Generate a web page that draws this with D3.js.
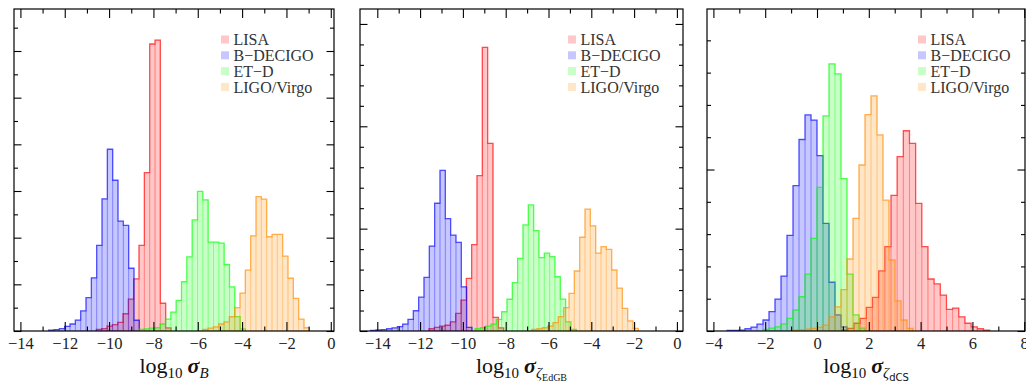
<!DOCTYPE html>
<html>
<head>
<meta charset="utf-8">
<script src="https://cdn.jsdelivr.net/npm/d3@7"></script>
<style>
  body { margin: 0; background: #fff; }
  svg { display: block; font-family: "Liberation Serif", "DejaVu Serif", serif; }
</style>
</head>
<body>
<svg id="chart" width="1026" height="384"></svg>
<script>
// detectors, in legend (and drawing) order
const names = ["LISA", "B\u2212DECIGO", "ET\u2212D", "LIGO/Virgo"];
const colors = ["#ff0000", "#0000ff", "#00ff00", "#ff8c00"];

// panel 1: log10 sigma_B -- first bin edge of each series, common bin width, densities
const bStarts = [-10.575, -12.725, -8.659, -5.779];
const bWidth = 0.2406;
const bLisa = [0.007, 0.010, 0.021, 0.027, 0.037, 0.074, 0.137, 0.223, 0.367, 0.679, 1.230, 1.247, 0.119, 0.013];
const bDecigo = [0.004, 0.006, 0.010, 0.020, 0.030, 0.047, 0.086, 0.143, 0.228, 0.367, 0.566, 0.779, 0.646, 0.471, 0.453, 0.269, 0.046];
const bEtd = [0.007, 0.009, 0.012, 0.014, 0.030, 0.051, 0.081, 0.131, 0.211, 0.318, 0.476, 0.598, 0.562, 0.381, 0.381, 0.377, 0.285, 0.189, 0.062, 0.009];
const bLigo = [0.007, 0.012, 0.018, 0.030, 0.039, 0.061, 0.100, 0.162, 0.261, 0.408, 0.576, 0.565, 0.404, 0.414, 0.414, 0.321, 0.226, 0.140, 0.051, 0.014];

// panel 2: log10 sigma_zeta EdGB
const eStarts = [-11.584, -14.31, -9.435, -6.786];
const eWidth = 0.2492;
const eLisa = [0.011, 0.018, 0.024, 0.028, 0.045, 0.086, 0.151, 0.257, 0.422, 0.759, 1.386, 0.917, 0.067, 0.015];
const eDecigo = [0.003, 0.005, 0.007, 0.011, 0.015, 0.021, 0.034, 0.057, 0.099, 0.165, 0.262, 0.415, 0.624, 0.785, 0.549, 0.468, 0.433, 0.216, 0.018];
const eEtd = [0.011, 0.016, 0.024, 0.034, 0.057, 0.094, 0.155, 0.236, 0.355, 0.518, 0.616, 0.490, 0.358, 0.380, 0.363, 0.265, 0.156, 0.045, 0.008];
const eLigo = [0.008, 0.011, 0.016, 0.024, 0.041, 0.070, 0.114, 0.184, 0.293, 0.458, 0.595, 0.514, 0.380, 0.412, 0.399, 0.298, 0.209, 0.111, 0.049, 0.013];

// panel 3: log10 sigma_zeta dCS (LISA has its own bin width)
const dStarts = [0.952, -3.475, -2.085, -0.927];
const dWidths = [0.238, 0.2317, 0.2317, 0.2317];
const dLisa = [0.003, 0.008, 0.024, 0.039, 0.073, 0.104, 0.186, 0.261, 0.420, 0.540, 0.620, 0.581, 0.395, 0.261, 0.161, 0.146, 0.111, 0.067, 0.071, 0.044, 0.024, 0.013, 0.007, 0.003];
const dDecigo = [0.002, 0.002, 0.003, 0.007, 0.012, 0.021, 0.034, 0.060, 0.099, 0.170, 0.296, 0.450, 0.593, 0.669, 0.653, 0.543, 0.333, 0.151, 0.050, 0.013];
const dEtd = [0.005, 0.009, 0.013, 0.022, 0.039, 0.065, 0.106, 0.176, 0.287, 0.445, 0.666, 0.827, 0.796, 0.472, 0.176, 0.050, 0.009];
const dLigo = [0.003, 0.004, 0.006, 0.008, 0.011, 0.018, 0.044, 0.075, 0.128, 0.223, 0.349, 0.514, 0.670, 0.728, 0.607, 0.405, 0.220, 0.093, 0.034, 0.008];

// ticks
const xTicksNeg = [-14, -12, -10, -8, -6, -4, -2, 0];
const xMinorNeg = [-13, -11, -9, -7, -5, -3, -1];
const xTicksC = [-4, -2, 0, 2, 4, 6, 8];
const xMinorC = [-3, -1, 1, 3, 5, 7];
const yTicksB = [0, 0.2, 0.4, 0.6, 0.8, 1.0, 1.2];
const yMinorB = [0.1, 0.3, 0.5, 0.7, 0.9, 1.1, 1.3];
const yTicksE = [0, 0.5, 1.0, 1.5];
const yMinorE = [0.1, 0.2, 0.3, 0.4, 0.6, 0.7, 0.8, 0.9, 1.1, 1.2, 1.3, 1.4];
const yTicksD = [0, 0.5];
const yMinorD = [0.1, 0.2, 0.3, 0.4, 0.6, 0.7, 0.8, 0.9];

const svg = d3.select("#chart");
const plotTop = 9, plotH = 322;

const panels = [
  {left: 14, width: 320, xDomain: [-14.289, 0.145], yMax: 1.380,
   xTicks: xTicksNeg, xMinor: xMinorNeg, yTicks: yTicksB, yMinor: yMinorB,
   starts: bStarts, widths: [bWidth, bWidth, bWidth, bWidth],
   series: [bLisa, bDecigo, bEtd, bLigo], legendX: 207, sub: "B", subsub: null},
  {left: 360, width: 323, xDomain: [-14.808, 0.285], yMax: 1.573,
   xTicks: xTicksNeg, xMinor: xMinorNeg, yTicks: yTicksE, yMinor: yMinorE,
   starts: eStarts, widths: [eWidth, eWidth, eWidth, eWidth],
   series: [eLisa, eDecigo, eEtd, eLigo], legendX: 208, sub: "\u03b6", subsub: "EdGB"},
  {left: 707, width: 318, xDomain: [-4.247, 8.03], yMax: 0.997,
   xTicks: xTicksC, xMinor: xMinorC, yTicks: yTicksD, yMinor: yMinorD,
   starts: dStarts, widths: dWidths,
   series: [dLisa, dDecigo, dEtd, dLigo], legendX: 211, sub: "\u03b6", subsub: "dCS"}
];

const majorLen = 9, minorLen = 4.5;

panels.forEach((p, pi) => {
  const g = svg.append("g").attr("transform", `translate(${p.left},${plotTop})`);
  const x = d3.scaleLinear().domain(p.xDomain).range([0, p.width]);
  const y = d3.scaleLinear().domain([0, p.yMax]).range([plotH, 0]);

  g.append("clipPath").attr("id", "clip" + pi)
    .append("rect").attr("width", p.width).attr("height", plotH);
  const plot = g.append("g").attr("clip-path", `url(#clip${pi})`);

  p.series.forEach((vals, si) => {
    const w = p.widths[si];
    const bins = vals.map((v, i) => ({x0: p.starts[si] + i * w, x1: p.starts[si] + (i + 1) * w, v}));
    const c = colors[si];

    // filled bars
    plot.append("g").selectAll("rect").data(bins).join("rect")
      .attr("x", d => x(d.x0))
      .attr("y", d => y(d.v))
      .attr("width", d => x(d.x1) - x(d.x0))
      .attr("height", d => y(0) - y(d.v))
      .attr("fill", c).attr("fill-opacity", 0.22)
      .attr("stroke", c).attr("stroke-opacity", 0.2).attr("stroke-width", 1);

    // step outline
    const pts = [[bins[0].x0, 0]];
    bins.forEach(b => { pts.push([b.x0, b.v]); pts.push([b.x1, b.v]); });
    pts.push([bins[bins.length - 1].x1, 0]);
    plot.append("path")
      .attr("d", d3.line().x(d => x(d[0])).y(d => y(d[1]))(pts))
      .attr("fill", "none")
      .attr("stroke", c).attr("stroke-opacity", 0.6).attr("stroke-width", 1.3);
  });

  // axes with inward ticks on all four sides
  const addAxis = (axis, tr, vals, len, labels) => {
    const a = g.append("g").attr("transform", tr)
      .call(axis.tickValues(vals).tickSize(-len).tickPadding(6)
        .tickFormat(labels ? d3.format("d") : ""));
    a.select(".domain").remove();
    a.selectAll("line").attr("stroke", "#000").attr("stroke-width", 1.1);
    a.selectAll("text").attr("font-size", 16.5).attr("fill", "#222")
      .attr("font-family", "Liberation Serif, serif");
  };
  addAxis(d3.axisBottom(x), `translate(0,${plotH})`, p.xTicks, majorLen, true);
  addAxis(d3.axisBottom(x), `translate(0,${plotH})`, p.xMinor, minorLen, false);
  addAxis(d3.axisTop(x), "translate(0,0)", p.xTicks, majorLen, false);
  addAxis(d3.axisTop(x), "translate(0,0)", p.xMinor, minorLen, false);
  addAxis(d3.axisLeft(y), "translate(0,0)", p.yTicks, 7.5, false);
  addAxis(d3.axisLeft(y), "translate(0,0)", p.yMinor, 4, false);
  addAxis(d3.axisRight(y), `translate(${p.width},0)`, p.yTicks, 7.5, false);
  addAxis(d3.axisRight(y), `translate(${p.width},0)`, p.yMinor, 4, false);

  g.append("rect").attr("width", p.width).attr("height", plotH)
    .attr("fill", "none").attr("stroke", "#000").attr("stroke-width", 1.2);

  // legend
  const lg = g.append("g").attr("transform", `translate(${p.legendX},30.5)`);
  names.forEach((n, i) => {
    lg.append("rect").attr("x", 0).attr("y", i * 15.8 - 4).attr("width", 8).attr("height", 8)
      .attr("fill", colors[i]).attr("fill-opacity", 0.22);
    lg.append("text").attr("x", 12.5).attr("y", i * 15.8).attr("dy", "0.35em")
      .attr("font-size", 16).attr("fill", "#333").text(n);
  });

  // x-axis title
  const t = g.append("text").attr("x", p.width / 2).attr("y", 364)
    .attr("text-anchor", "middle").attr("font-size", 22).attr("fill", "#111");
  t.append("tspan").text("log");
  t.append("tspan").attr("font-size", 15).attr("dy", 5).text("10");
  t.append("tspan").attr("dx", 5).attr("dy", -5).attr("font-style", "italic")
    .attr("font-weight", "bold").text("\u03c3");
  t.append("tspan").attr("font-size", 15).attr("dy", 5).attr("font-style", "italic").text(p.sub);
  if (p.subsub) {
    t.append("tspan").attr("font-size", 10).attr("dy", 3)
      .attr("font-family", p.subsub === "dCS" ? "DejaVu Sans, sans-serif" : "Liberation Serif, serif")
      .text(p.subsub);
  }
});
</script>
</body>
</html>
